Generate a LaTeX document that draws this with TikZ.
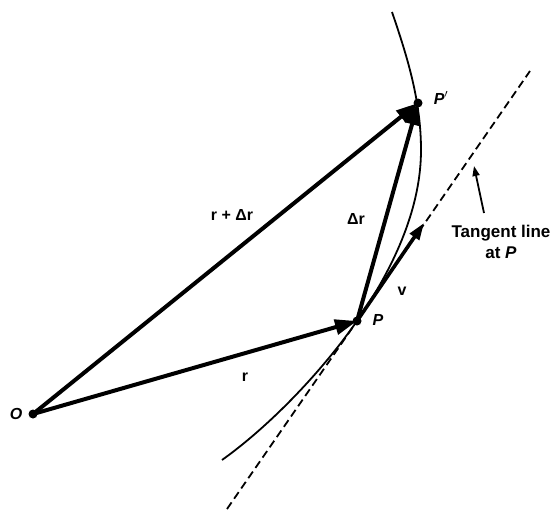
\documentclass[tikz,border=0pt]{standalone}
\usepackage{fontspec}
\setmainfont{Liberation Sans}
\usetikzlibrary{arrows.meta}
\begin{document}
\begin{tikzpicture}[x=1pt,y=-1pt,
  vec/.style={line width=4pt,-{Triangle[length=22pt,width=15pt]}},
  vecs/.style={line width=3.6pt,-{Triangle[length=17pt,width=11pt]}},
  dotm/.style={circle,fill,inner sep=0pt,minimum size=9pt},
  lbl/.style={font=\fontsize{16}{18}\selectfont\bfseries,inner sep=1pt},
  tlbl/.style={font=\fontsize{17}{21}\selectfont\bfseries,align=center,inner sep=1pt},
  pathcurve/.style={line width=1.8pt},
  tangent/.style={line width=1.8pt,dash pattern=on 8pt off 4.5pt},
  pointer/.style={line width=1.8pt,-{Triangle[length=10pt,width=7pt]}}]
\useasboundingbox (0,0) rectangle (554,509);
% points
\coordinate (O) at (33,414);
\coordinate (P) at (357,321);
\coordinate (Pp) at (418,103);
\coordinate (V) at (424,223);
\coordinate (T1) at (227,509);
\coordinate (T2) at (530,71);
\coordinate (Ps) at (484,213);
\coordinate (Pe) at (474,166);
\coordinate (C) at (222,460);
\coordinate (M) at (421,150);
\coordinate (A) at (392,12);
% curve (path of the particle)
\draw[pathcurve] (C) .. controls (271,425) and (323,370) .. (P)
  .. controls (397,263) and (421,205) .. (M)
  .. controls (421,100) and (407,56) .. (A);
% tangent line
\draw[tangent] (T1) -- (T2);
% vectors
\draw[vec] (O) -- (P);
\draw[vec] (O) -- (Pp);
\draw[vec] (P) -- (Pp);
\draw[vecs] (P) -- (V);
% dots
\node[dotm] (dO) at (O) {};
\node[dotm] (dP) at (P) {};
\node[dotm] (dPp) at (Pp) {};
% labels
\node[lbl] (lO) at (16,414) {\textit{O}};
\node[lbl] (lP) at (378,320) {\textit{P}};
\node[lbl] (lPp) at (441,98) {\textit{P}$'$};
\node[lbl] (lDr) at (356,219) {Δr};
\node[lbl] (lv) at (402,291) {v};
\node[lbl] (lr) at (245,377) {r};
\node[lbl] (lrdr) at (232,215) {r + Δr};
\node[tlbl] (lt) at (501,242) {Tangent line\\at \textit{P}};
% pointer
\draw[pointer] (Ps) -- (Pe);
\end{tikzpicture}
\end{document}
